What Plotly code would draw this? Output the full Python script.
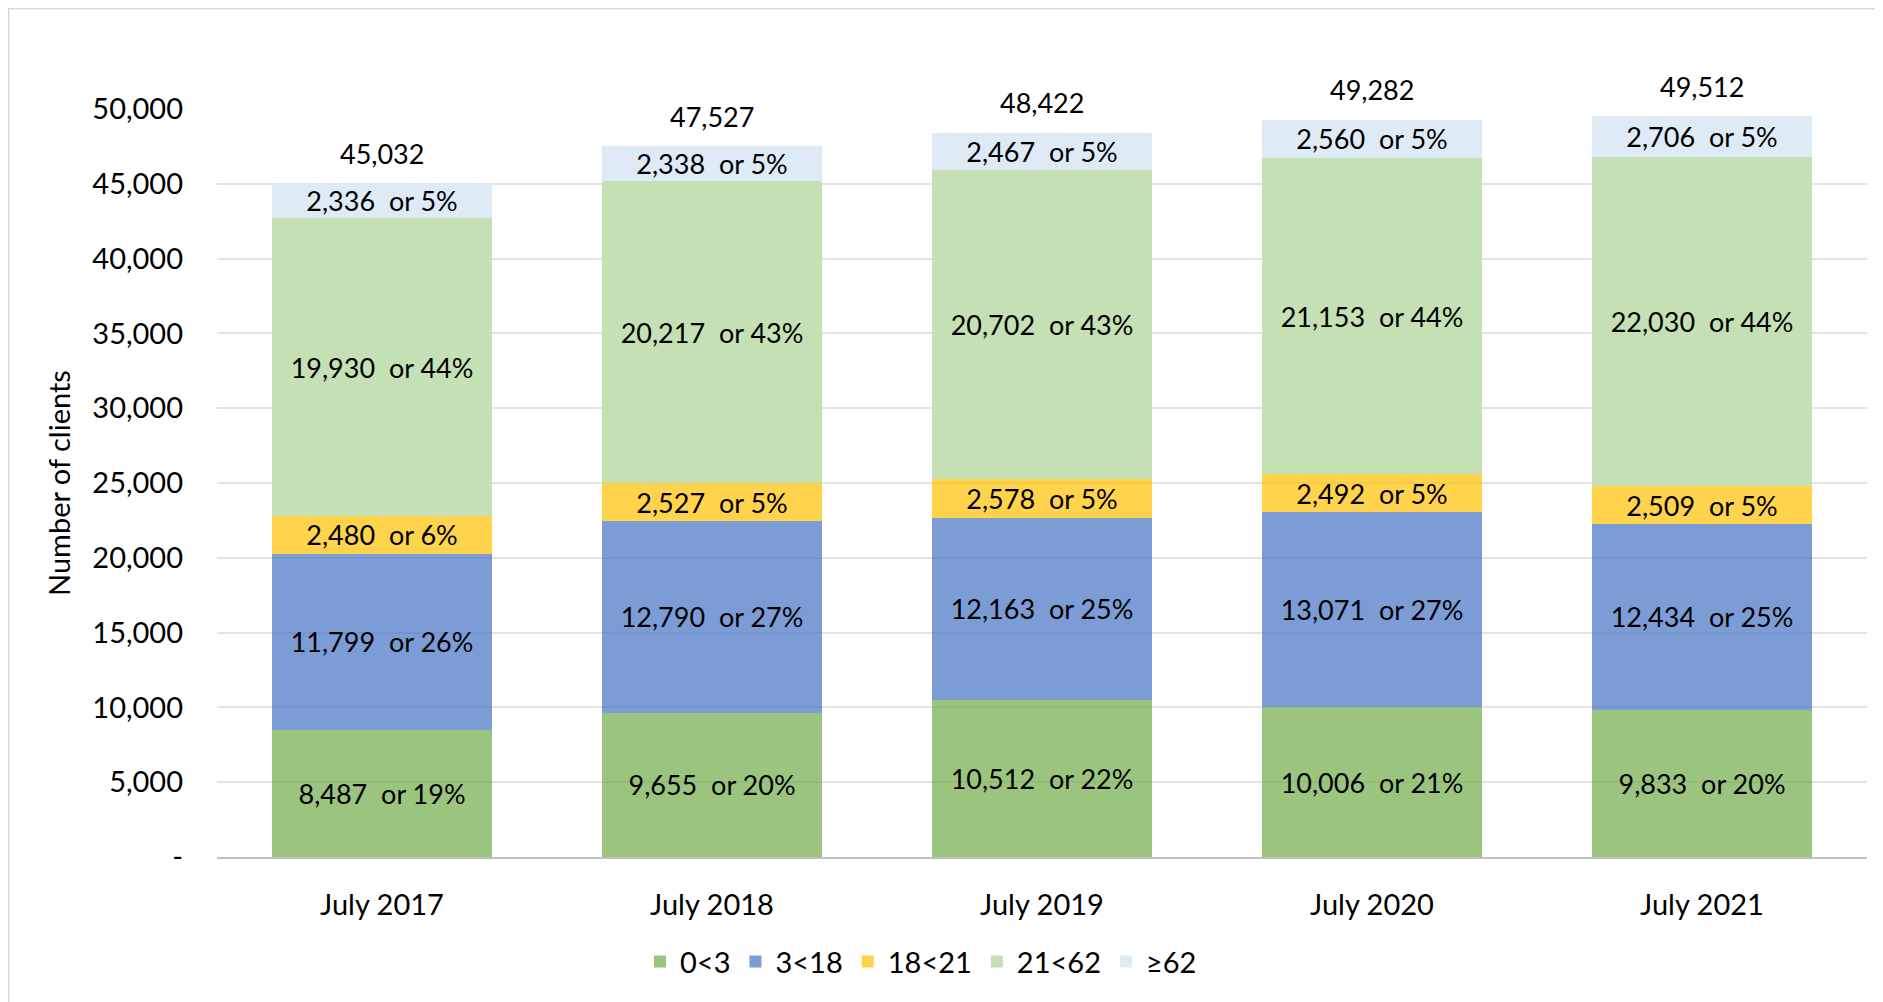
import plotly.graph_objects as go

categories = ["July 2017", "July 2018", "July 2019", "July 2020", "July 2021"]

series_names = ["0<3", "3<18", "18<21", "21<62", "≥62"]
age_0_3 = [8487, 9655, 10512, 10006, 9833]
age_3_18 = [11799, 12790, 12163, 13071, 12434]
age_18_21 = [2480, 2527, 2578, 2492, 2509]
age_21_62 = [19930, 20217, 20702, 21153, 22030]
age_62 = [2336, 2338, 2467, 2560, 2706]

pct_0_3 = [19, 20, 22, 21, 20]
pct_3_18 = [26, 27, 25, 27, 25]
pct_18_21 = [6, 5, 5, 5, 5]
pct_21_62 = [44, 43, 43, 44, 44]
pct_62 = [5, 5, 5, 5, 5]

totals = [45032, 47527, 48422, 49282, 49512]

y_tickvals = [0, 5000, 10000, 15000, 20000, 25000, 30000, 35000, 40000, 45000, 50000]
y_ticktext = ["-", "5,000", "10,000", "15,000", "20,000", "25,000", "30,000",
              "35,000", "40,000", "45,000", "50,000"]

colors = ["rgba(112,173,71,0.7)", "rgba(68,114,196,0.7)", "rgba(255,192,0,0.7)",
          "#C5E0B4", "#DEEBF7"]

FONT = "Lato, Carlito, Calibri, 'Open Sans', sans-serif"
FS = 27      # data labels
FT = 29      # axis ticks, title, legend

values = [age_0_3, age_3_18, age_18_21, age_21_62, age_62]
pcts = [pct_0_3, pct_3_18, pct_18_21, pct_21_62, pct_62]

fig = go.Figure()
for name, vals, pc, col in zip(series_names, values, pcts, colors):
    labels = [f"{v:,}\u00a0\u00a0or {p}%" for v, p in zip(vals, pc)]
    fig.add_trace(go.Bar(
        x=categories, y=vals, name=name,
        marker=dict(color=col, line=dict(width=0)),
        text=labels, textposition="inside", insidetextanchor="middle",
        textangle=0, constraintext="none",
        textfont=dict(family=FONT, size=FS, color="black"),
        hoverinfo="x+y+name",
    ))

for c, t in zip(categories, totals):
    fig.add_annotation(x=c, y=t, text=f"{t:,}", showarrow=False,
                       yanchor="middle", yshift=30,
                       font=dict(family=FONT, size=FS, color="black"))

# page has an 8px body margin; figure placed so plot lands on reference pixels
OFF = 8
W, H = 1883 - OFF, 1002 - OFF
ml, mr, mt, mb = 217 - OFF, 16, 109 - OFF, 1002 - 857.3
pw = W - ml - mr
ph = H - mt - mb

fig.add_annotation(xref="paper", yref="paper", x=(58 - OFF - ml) / pw, y=0.5,
                   text="Number of clients", textangle=-90, showarrow=False,
                   xanchor="center", yanchor="middle",
                   font=dict(family=FONT, size=FT, color="black"))

# chart-area border (left and top edges visible)
fig.add_shape(type="rect", xref="paper", yref="paper",
              x0=(0.75 - ml) / pw, x1=(W + 20 - ml) / pw,
              y0=(H - mb - 0.75) / ph, y1=-(mb + 20) / ph,
              line=dict(color="#D9D9D9", width=1.5), fillcolor="rgba(0,0,0,0)",
              layer="below")

fig.update_layout(
    width=W, height=H, autosize=False,
    barmode="stack", bargap=0.333,
    paper_bgcolor="white", plot_bgcolor="white",
    margin=dict(l=ml, r=mr, t=mt, b=mb, pad=0),
    font=dict(family=FONT, size=FS, color="black"),
    uniformtext=dict(minsize=FS, mode="show"),
    legend=dict(orientation="h", xanchor="center", yanchor="middle",
                x=(921 - OFF - ml) / pw, y=-(962 - 857.3) / ph,
                font=dict(family=FONT, size=FT, color="black"),
                itemwidth=30, traceorder="normal"),
    showlegend=True,
)
fig.update_xaxes(showgrid=False, showline=True, linecolor="#BFBFBF", linewidth=1.5,
                 ticks="", ticklabelstandoff=21, automargin=False,
                 tickfont=dict(family=FONT, size=FT, color="black"))
fig.update_yaxes(range=[0, 50000], tickvals=y_tickvals, ticktext=y_ticktext,
                 showgrid=True, gridcolor="#E3E3E3", gridwidth=1.5,
                 zeroline=False, showline=False, ticks="",
                 ticklabelstandoff=33, automargin=False,
                 tickfont=dict(family=FONT, size=FT, color="black"))

fig.write_html("out.html")
